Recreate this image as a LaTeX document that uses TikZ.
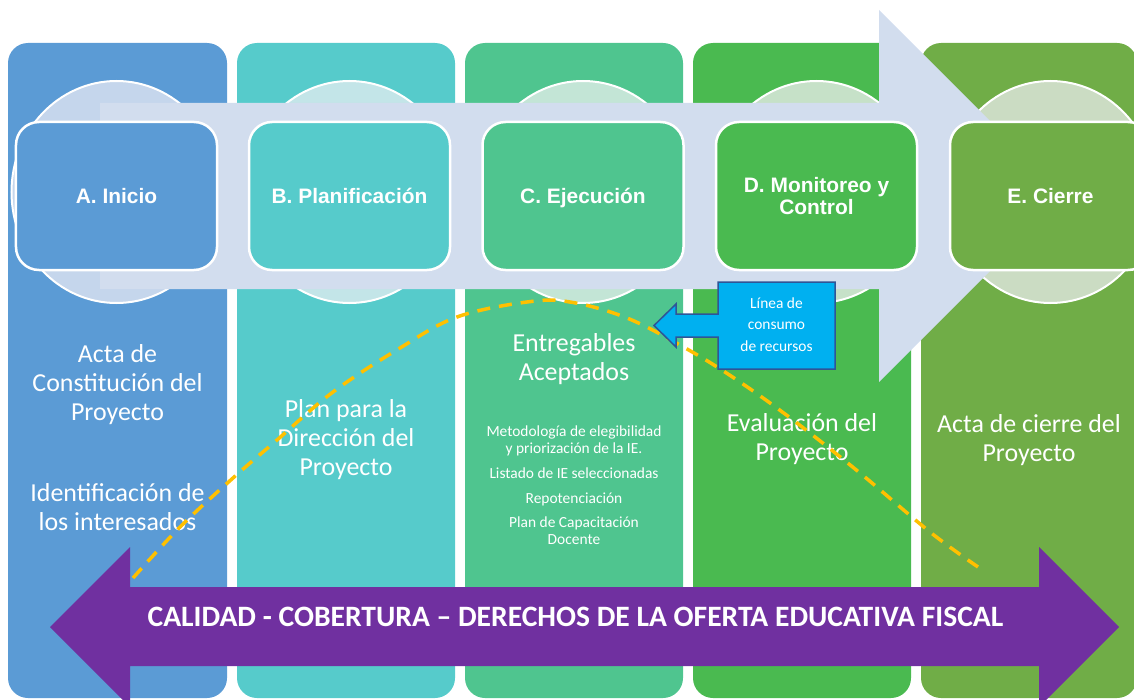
\documentclass[tikz,border=0pt]{standalone}
\usepackage{fontspec}
\setmainfont{Carlito}
\newfontfamily\titlefont{Liberation Sans}
\definecolor{c1}{HTML}{5B9BD5}
\definecolor{c2}{HTML}{56CBCB}
\definecolor{c3}{HTML}{4FC58F}
\definecolor{c4}{HTML}{4ABA50}
\definecolor{c5}{HTML}{70AD47}
\definecolor{cc1}{HTML}{C5D6EC}
\definecolor{cc2}{HTML}{C3E5E8}
\definecolor{cc3}{HTML}{C3E5D6}
\definecolor{cc4}{HTML}{C6E1C8}
\definecolor{cc5}{HTML}{CBDCC3}
\definecolor{flow}{HTML}{D2DDEE}
\definecolor{purp}{HTML}{7030A0}
\definecolor{callfill}{HTML}{00B0F0}
\definecolor{callline}{HTML}{2F5597}
\definecolor{dashc}{HTML}{FFC000}
\tikzset{
  colbox/.style={rounded corners=20bp},
  circ/.style={draw=white, line width=2bp},
  phasebox/.style={draw=white, line width=2.5bp, rounded corners=23bp,
    minimum width=201bp, minimum height=148bp, inner sep=0pt, text=white,
    align=center, font=\titlefont\bfseries\fontsize{21}{22}\selectfont},
  coltext/.style={text=white, align=center, anchor=base, inner sep=0pt,
    font=\fontsize{26}{29}\selectfont},
  smalltext/.style={text=white, align=center, anchor=base, inner sep=0pt,
    font=\fontsize{15.5}{16.5}\selectfont},
}
\begin{document}
\begin{tikzpicture}[x=1bp,y=-1bp]
\useasboundingbox (0,0) rectangle (1134,700);
\clip (0,0) rectangle (1134,700);
% columns
\path[colbox, fill=c1] (8,43) rectangle (227,698);
\path[colbox, fill=c2] (237,43) rectangle (455,698);
\path[colbox, fill=c3] (465,43) rectangle (683,698);
\path[colbox, fill=c4] (693,43) rectangle (911,698);
\path[colbox, fill=c5] (921,43) rectangle (1137,698);
% circles
\filldraw[circ, fill=cc1] (116.5,192) ellipse [x radius=105, y radius=111];
\filldraw[circ, fill=cc2] (349.5,192) ellipse [x radius=105, y radius=111];
\filldraw[circ, fill=cc3] (583,192) ellipse [x radius=105, y radius=111];
\filldraw[circ, fill=cc4] (816.5,192) ellipse [x radius=105, y radius=111];
\filldraw[circ, fill=cc5] (1050.5,192) ellipse [x radius=105, y radius=111];
% big flow arrow
\path[fill=flow] (100,103) -- (879,103) -- (879,10) -- (1065,196) -- (879,382) -- (879,289) -- (100,289) -- cycle;
% phase boxes
\node[phasebox, fill=c1] (A) at (116.5,196) {A. Inicio};
\node[phasebox, fill=c2] (B) at (349.5,196) {B. Planificación};
\node[phasebox, fill=c3, text depth=0bp] (C) at (583,196) {C. Ejecución};
\node[phasebox, fill=c4] (D) at (816.5,196) {D. Monitoreo y\\Control};
\node[phasebox, fill=c5] (E) at (1050.5,196) {E. Cierre};
% column texts (anchor = baseline of last line)
\node[coltext] (t1) at (117.5,420) {Acta de\\Constitución del\\Proyecto};
\node[coltext] (t1b) at (117.5,530) {Identificación de\\los interesados};
\node[coltext] (t2) at (346,475) {Plan para la\\Dirección del\\Proyecto};
\node[coltext] (t3) at (574,380) {Entregables\\Aceptados};
\node[smalltext] (s1) at (574,453) {Metodología de elegibilidad\\y priorización de la IE.};
\node[smalltext] (s2) at (574,478) {Listado de IE seleccionadas};
\node[smalltext] (s3) at (574,503) {Repotenciación};
\node[smalltext] (s4) at (574,544) {Plan de Capacitación\\Docente};
\node[coltext] (t4) at (802,460) {Evaluación del\\Proyecto};
\node[coltext] (t5) at (1029,461) {Acta de cierre del\\Proyecto};
% dashed resource line
\draw[dashc, line width=3.5bp, dash pattern=on 13bp off 9bp]
  plot[smooth, tension=0.6] coordinates {(133,578) (180,527) (233,478) (277,440) (333,392) (400,348) (457,317) (527,302) (570,302) (627,318) (687,349) (737,380) (793,420) (860,473) (930,532) (978,567)};
% callout
\filldraw[fill=callfill, draw=callline, line width=1.5bp]
  (718,282) -- (835,282) -- (835,369) -- (718,369) -- (718,337) -- (676,337) -- (676,347) -- (654,325.5) -- (676,304) -- (676,314) -- (718,314) -- cycle;
\node[text=white, align=center, anchor=base, inner sep=0pt, font=\fontsize{15.5}{21.5}\selectfont] (call) at (776.5,351) {Línea de\\consumo\\de recursos};
% purple double arrow
\path[fill=purp] (50,627) -- (130,547) -- (130,587) -- (1039,587) -- (1039,547) -- (1119,627) -- (1039,707) -- (1039,666) -- (130,666) -- (130,707) -- cycle;
\node[text=white, anchor=base, inner sep=0pt, font=\bfseries\fontsize{29.7}{30}\selectfont] (axis) at (575.5,626.5) {CALIDAD - COBERTURA – DERECHOS DE LA OFERTA EDUCATIVA FISCAL};
\end{tikzpicture}
\end{document}
